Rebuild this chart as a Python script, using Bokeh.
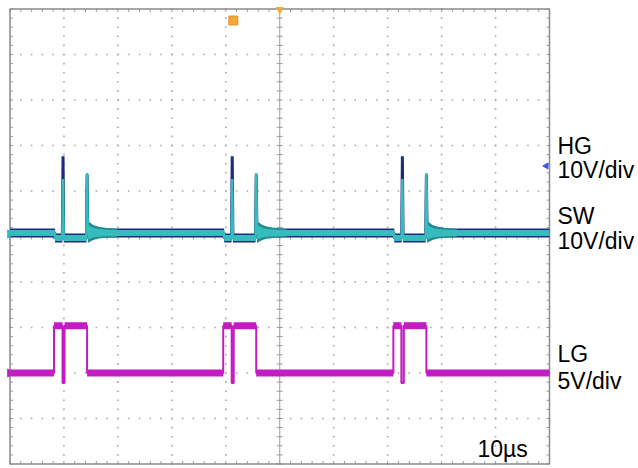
import numpy as np
from bokeh.plotting import figure
from bokeh.models import Range1d, Label
from bokeh.embed import file_html
from bokeh.resources import INLINE

# ---- scope settings ----
time_per_div_us = 10
n_xdiv = 10
n_ydiv = 10
sw_volts_per_div = 10
hg_volts_per_div = 10
lg_volts_per_div = 5
sw_offset_div = 0.055     # CH ground markers (divisions from centre)
hg_offset_div = 0.055
lg_offset_div = -3.0
trig_level_div = 1.55
trig_time_us = 41.4

# ---- traces (time in us, value in volts) ----
sw_t = [0, 8.35, 8.35, 9.70, 9.83, 9.96, 14.16, 14.29, 14.42,
        39.70, 39.70, 41.06, 41.19, 41.32, 45.51, 45.64, 45.77,
        71.24, 71.24, 72.60, 72.73, 72.86, 77.05, 77.18, 77.31, 100]
sw_v = [0.2, 0.2, -0.9, -0.9, 12.1, -0.9, -0.9, 13.4, 0.2,
        0.2, -0.9, -0.9, 12.1, -0.9, -0.9, 13.4, 0.2,
        0.2, -0.9, -0.9, 12.1, -0.9, -0.9, 13.4, 0.2, 0.2]
hg_t = [0, 8.35, 8.35, 9.70, 9.83, 9.96, 14.16, 14.29, 14.42,
        39.70, 39.70, 41.06, 41.19, 41.32, 45.51, 45.64, 45.77,
        71.24, 71.24, 72.60, 72.73, 72.86, 77.05, 77.18, 77.31, 100]
hg_v = [0.2, 0.2, -0.9, -0.9, 17.1, -0.9, -0.9, 13.0, 0.2,
        0.2, -0.9, -0.9, 17.1, -0.9, -0.9, 13.0, 0.2,
        0.2, -0.9, -0.9, 17.1, -0.9, -0.9, 13.0, 0.2, 0.2]
# SW ringing envelope after each turn-off
ring_start_us = [14.42, 45.77, 77.31]
ring_dt_us = [0, 0.4, 1.0, 2.0, 3.5, 5.5]
ring_hi_v = [2.9, 2.5, 2.0, 1.6, 1.3, 1.1]
ring_lo_v = [-2.0, -1.7, -1.3, -1.0, -0.8, -0.7]

lg_t = [0, 8.16, 8.16, 9.74, 9.74, 10.11, 10.11, 14.29, 14.29,
        39.52, 39.52, 41.09, 41.09, 41.47, 41.47, 45.64, 45.64,
        71.06, 71.06, 72.54, 72.54, 73.00, 73.00, 77.18, 77.18, 100]
lg_v = [0, 0, 5.2, 5.2, -1.1, -1.1, 5.2, 5.2, 0,
        0, 5.2, 5.2, -1.1, -1.1, 5.2, 5.2, 0,
        0, 5.2, 5.2, -1.1, -1.1, 5.2, 5.2, 0, 0]

labels = [("HG", 323), ("10V/div", 299), ("SW", 253), ("10V/div", 228),
          ("LG", 115), ("5V/div", 88)]
timebase_label = "10µs"

# ---- geometry ----
W, H = 638, 468
px_x = 53.95 / time_per_div_us   # px per us
px_y = 45.5                       # px per division
x_end_us = time_per_div_us * n_xdiv
y_top = n_ydiv / 2
x_range = Range1d(-9.5 / px_x, (W - 9.5) / px_x)
y0 = -y_top - 4.5 / px_y
y1 = y_top + 8.5 / px_y
y_range = Range1d(y0, y1)

p = figure(width=W, height=H, x_range=x_range, y_range=y_range,
           output_backend="svg", toolbar_location=None, min_border=0,
           x_axis_location=None, y_axis_location=None,
           outline_line_color=None, background_fill_color="white",
           border_fill_color="white")
p.grid.visible = False

p.extra_y_ranges = {
    "sw": Range1d((y0 - sw_offset_div) * sw_volts_per_div, (y1 - sw_offset_div) * sw_volts_per_div),
    "hg": Range1d((y0 - hg_offset_div) * hg_volts_per_div, (y1 - hg_offset_div) * hg_volts_per_div),
    "lg": Range1d((y0 - lg_offset_div) * lg_volts_per_div, (y1 - lg_offset_div) * lg_volts_per_div),
}

grid_col = "#a8a8a8"
minor = 0.2
# dotted graticule
xs_major = [i * time_per_div_us for i in range(1, n_xdiv) if i != n_xdiv // 2]
ys_major = [j for j in range(-int(y_top) + 1, int(y_top)) if j != 0]
ymin_pts = np.arange(-y_top, y_top + 1e-9, minor)
xmin_pts = np.arange(0, x_end_us + 1e-9, minor * time_per_div_us)
dx, dy = [], []
for xv in xs_major:
    dx += [xv] * len(ymin_pts); dy += list(ymin_pts)
for yv in ys_major:
    dx += list(xmin_pts); dy += [yv] * len(xmin_pts)
p.scatter(dx, dy, marker="square", size=1.6, color=grid_col, line_color=None)

# centre crosshair with ticks
p.segment([x_end_us / 2], [-y_top], [x_end_us / 2], [y_top], line_color="#9a9a9a", line_width=1)
p.segment([0], [0], [x_end_us], [0], line_color="#9a9a9a", line_width=1)
tx = 3 / px_x
ty = 3 / px_y
p.segment([x_end_us / 2 - tx] * len(ymin_pts), list(ymin_pts), [x_end_us / 2 + tx] * len(ymin_pts), list(ymin_pts),
          line_color="#9a9a9a", line_width=1)
p.segment(list(xmin_pts), [-ty] * len(xmin_pts), list(xmin_pts), [ty] * len(xmin_pts),
          line_color="#9a9a9a", line_width=1)
# border ticks (inward)
p.segment(list(xmin_pts), [y_top] * len(xmin_pts), list(xmin_pts), [y_top - ty] * len(xmin_pts),
          line_color="#9a9a9a", line_width=1)
p.segment(list(xmin_pts), [-y_top] * len(xmin_pts), list(xmin_pts), [-y_top + ty] * len(xmin_pts),
          line_color="#9a9a9a", line_width=1)
p.segment([0] * len(ymin_pts), list(ymin_pts), [tx] * len(ymin_pts), list(ymin_pts),
          line_color="#9a9a9a", line_width=1)
p.segment([x_end_us] * len(ymin_pts), list(ymin_pts), [x_end_us - tx] * len(ymin_pts), list(ymin_pts),
          line_color="#9a9a9a", line_width=1)
# border
p.quad(left=[0], right=[x_end_us], bottom=[-y_top], top=[y_top], fill_alpha=0,
       line_color="#8a8a8a", line_width=1.5)


def flat_segments(t, v, min_len):
    a, b, c, d = [], [], [], []
    for i in range(len(t) - 1):
        if v[i] == v[i + 1] and t[i + 1] - t[i] >= min_len:
            a.append(t[i]); b.append(v[i]); c.append(t[i + 1]); d.append(v[i + 1])
    return a, b, c, d


navy = "#1c2a82"
teal = "#36bcbc"
teal_dark = "#1f8a8f"
mag = "#c31cc3"
mag_dark = "#94109a"

# HG (under SW)
a, b, c, d = flat_segments(hg_t, hg_v, 1.0)
p.segment(a, b, c, d, y_range_name="hg", line_color=navy, line_width=9)
p.line(hg_t, hg_v, y_range_name="hg", line_color=navy, line_width=3)

# SW ringing envelopes
for ts in ring_start_us:
    rt = [ts + dt for dt in ring_dt_us]
    p.varea(x=rt, y1=ring_lo_v, y2=ring_hi_v, y_range_name="sw", fill_color=teal_dark)
    p.varea(x=rt, y1=[v * 0.6 for v in ring_lo_v], y2=[v * 0.7 for v in ring_hi_v],
            y_range_name="sw", fill_color=teal)

# SW
a, b, c, d = flat_segments(sw_t, sw_v, 1.0)
p.segment(a, b, c, d, y_range_name="sw", line_color=teal, line_width=6)
p.segment(a, b, c, d, y_range_name="sw", line_color=teal_dark, line_width=1.2, line_dash="3 2")
p.line(sw_t, sw_v, y_range_name="sw", line_color=teal, line_width=2.5)

# LG
dl, dr, db, dt_ = [], [], [], []
for i in range(len(lg_t) - 1):
    if lg_v[i] < 0 and lg_v[i + 1] < 0:
        dl.append(lg_t[i]); dr.append(lg_t[i + 1]); db.append(lg_v[i]); dt_.append(max(lg_v))
p.quad(left=dl, right=dr, bottom=db, top=dt_, y_range_name="lg", fill_color="#e8a6e8", line_color=None)
a, b, c, d = flat_segments(lg_t, lg_v, 1.0)
p.segment(a, b, c, d, y_range_name="lg", line_color=mag, line_width=7)
p.segment(a, b, c, d, y_range_name="lg", line_color=mag_dark, line_width=1.2, line_dash="2 3")
p.line(lg_t, lg_v, y_range_name="lg", line_color=mag, line_width=2)

# markers
p.scatter([0], [sw_offset_div], marker="triangle", angle=-np.pi / 2, size=8, color="#2fb8c0")
p.scatter([0], [lg_offset_div], marker="triangle", angle=-np.pi / 2, size=8, color="#c020c0")
p.scatter([x_end_us - 0.6], [trig_level_div], marker="triangle", angle=np.pi / 2, size=6, color="#3a5ae0")
p.scatter([trig_time_us], [y_top - 11.5 / px_y], marker="square", size=9, color="#f2a93a", line_color="#e8902a")
p.scatter([x_end_us / 2], [y_top - 0.5 / px_y], marker="inverted_triangle", size=7, color="#f2a93a")

for txt, yy in labels:
    p.add_layout(Label(x=557, y=yy, x_units="screen", y_units="screen", text=txt,
                       text_font="Liberation Sans", text_font_size="23px", text_color="black",
                       text_baseline="alphabetic"))
p.add_layout(Label(x=477, y=20, x_units="screen", y_units="screen", text=timebase_label,
                   text_font="Liberation Sans", text_font_size="23px", text_color="black",
                   text_baseline="alphabetic"))

open("out.html", "w").write(file_html(p, INLINE))
